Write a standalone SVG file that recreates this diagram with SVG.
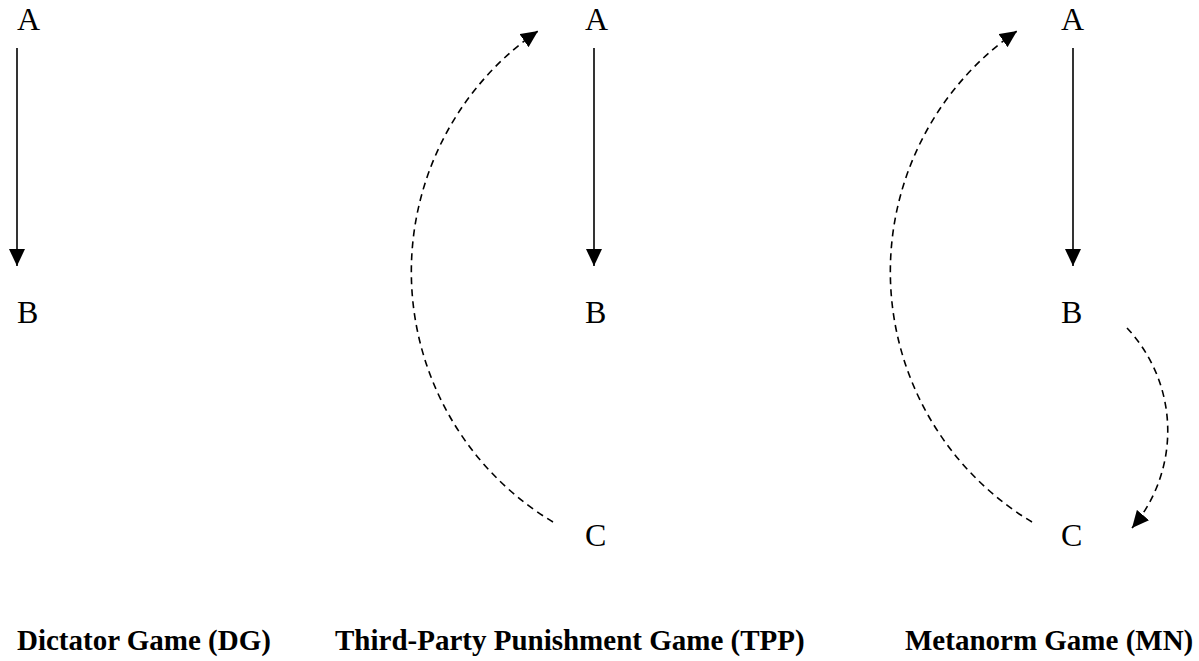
<svg xmlns="http://www.w3.org/2000/svg" width="1199" height="661" viewBox="0 0 1199 661">
  <style>
    .node { font-family: "Liberation Serif", "Times New Roman", serif; font-size: 32px; fill: #000; }
    .caption { font-family: "Liberation Serif", "Times New Roman", serif; font-size: 29px; font-weight: bold; fill: #000; }
    .solid { fill: none; stroke: #000; stroke-width: 1.6; }
    .dashed { fill: none; stroke: #000; stroke-width: 1.6; stroke-dasharray: 7 5; }
  </style>
  <defs>
    <marker id="head" markerUnits="userSpaceOnUse" markerWidth="18" markerHeight="16" refX="17" refY="8" orient="auto">
      <path d="M0,0 L17,8 L0,16 z" fill="#000"/>
    </marker>
  </defs>
  <rect width="1199" height="661" fill="#fff"/>

  <!-- Dictator Game -->
  <g id="dg-a"><text class="node" x="17" y="30">A</text></g>
  <g id="dg-b"><text class="node" x="17" y="323">B</text></g>

  <!-- Third-Party Punishment Game -->
  <g id="tpp-a"><text class="node" x="585" y="30">A</text></g>
  <g id="tpp-b"><text class="node" x="585" y="323">B</text></g>
  <g id="tpp-c"><text class="node" x="585" y="546">C</text></g>

  <!-- Metanorm Game -->
  <g id="mn-a"><text class="node" x="1061" y="30">A</text></g>
  <g id="mn-b"><text class="node" x="1061" y="323">B</text></g>
  <g id="mn-c"><text class="node" x="1061" y="546">C</text></g>

  <g id="connectors">
    <line class="solid" x1="17" y1="48" x2="17" y2="266" marker-end="url(#head)"/>
    <line class="solid" x1="594" y1="48" x2="594" y2="266" marker-end="url(#head)"/>
    <line class="solid" x1="1073" y1="48" x2="1073" y2="266" marker-end="url(#head)"/>
    <path class="dashed" d="M553,522 A292,292 0 0,1 538,31" marker-end="url(#head)"/>
    <path class="dashed" d="M1032,522 A292,292 0 0,1 1017,31" marker-end="url(#head)"/>
    <path class="dashed" d="M1127,328 A150,150 0 0,1 1132,528" marker-end="url(#head)"/>
  </g>

  <g id="captions">
    <text class="caption" x="17" y="650">Dictator Game (DG)</text>
    <text class="caption" x="335" y="650">Third-Party Punishment Game (TPP)</text>
    <text class="caption" x="905" y="650">Metanorm Game (MN)</text>
  </g>
</svg>
